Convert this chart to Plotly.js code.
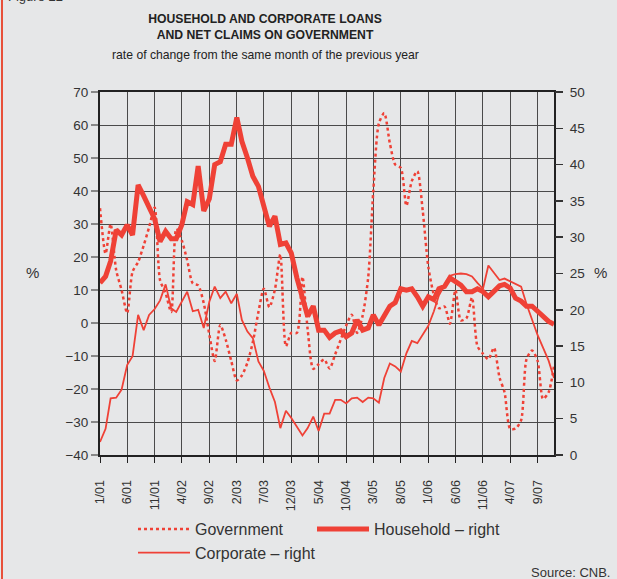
<!DOCTYPE html>
<html><head><meta charset="utf-8">
<script src="https://cdn.plot.ly/plotly-3.0.1.min.js"></script>
<style>html,body{margin:0;padding:0;background:#e6e7e8;}#chart{width:617px;height:579px;}</style>
</head><body><div id="chart"></div>
<script>
// Monthly series, January 2001 – December 2007
const startYear = 2001;
const tickLabels = ['1/01','6/01','11/01','4/02','9/02','2/03','7/03','12/03','5/04','10/04','3/05','8/05','1/06','6/06','11/06','4/07','9/07'];

// Government (left axis, %)
const government = [
  34.8, 21, 30, 16, 10, 3, 15.5, 18.5, 23.5, 29, 35, 13,
  9, 3.3, 28.5, 25, 19, 12, 11.4, 6, -3.5, -11.5, -0.6, -5,
  -11.5, -17.4, -15.9, -12, -5.8, 3.3, 10.4, 4.8, 10.2, 20.8, -7, -3,
  -3, 14, -2, -13.9, -12.5, -11, -13.8, -9.5, -5, -0.8, 2.5, -3,
  2.3, 14, 40, 60.5, 63.6, 54.5, 48, 47, 35.5, 43, 46, 34,
  17, 8.5, 4.5, 5, -0.2, 10, 0.8, 1.5, 7.7, -7, -9.3, -11,
  -7.5, -16.5, -21, -32, -32, -29.5, -11, -8.3, -11.5, -23, -21, -13
];
// Household (right axis, %)
const household = [
  23.7, 24.6, 26.7, 31.0, 30.3, 31.7, 30.3, 37.2, 35.7, 34.0, 32.5, 29.4,
  30.8, 29.8, 29.8, 31.7, 34.9, 34.5, 39.8, 33.6, 35.3, 40.0, 40.4, 42.8,
  42.8, 46.5, 43.2, 40.9, 38.4, 37.0, 34.0, 31.5, 32.9, 29.0, 29.2, 27.8,
  24.4, 21.6, 19.1, 20.5, 17.2, 17.2, 16.2, 16.8, 17.1, 16.3, 16.8, 18.6,
  17.2, 17.5, 19.3, 17.9, 19.3, 20.5, 21.0, 22.9, 22.7, 22.9, 21.8, 20.5,
  21.8, 21.4, 22.9, 23.2, 24.4, 23.9, 23.4, 22.5, 22.5, 22.9, 22.5, 21.8,
  22.6, 23.3, 23.5, 23.0, 21.6, 21.2, 20.5, 20.5, 19.8, 19.1, 18.4, 18.0
];
// Corporate (right axis, %)
const corporate = [
  1.8, 3.6, 7.8, 7.9, 9.0, 12.4, 13.6, 19.3, 17.2, 19.3, 20.1, 21.3,
  23.5, 20.2, 19.7, 21.1, 22.5, 19.8, 20.0, 17.5, 21.1, 23.2, 21.6, 22.5,
  20.9, 22.2, 18.6, 17.0, 16.1, 12.9, 11.6, 9.3, 7.3, 3.7, 6.1, 5.1,
  3.8, 2.7, 3.7, 5.3, 3.3, 5.7, 5.7, 7.6, 7.6, 7.1, 7.8, 7.9,
  7.3, 7.9, 7.8, 7.2, 10.6, 12.6, 12.2, 11.5, 14.0, 15.7, 15.4, 16.6,
  17.8, 19.8, 22.0, 23.4, 24.7, 24.9, 25.0, 24.9, 24.6, 23.7, 22.9, 26.1,
  25.1, 24.1, 24.3, 23.9, 23.6, 23.2, 20.8, 18.6, 16.5, 14.8, 13.0, 10.6
];

function monthDate(i) {
  const y = startYear + Math.floor(i / 12);
  const m = (i % 12) + 1;
  return y + '-' + String(m).padStart(2, '0') + '-01';
}
const months = government.map((_, i) => monthDate(i));
const tickVals = tickLabels.map(l => {
  const p = l.split('/');
  return '20' + p[1] + '-' + p[0].padStart(2, '0') + '-01';
});

const RED = '#ef4136';
const TXT = '#333333';
const SANS = 'Liberation Sans, Arial, sans-serif';

const traces = [
  {x: months, y: government, name: 'Government', type: 'scatter', mode: 'lines', yaxis: 'y', legend: 'legend',
   line: {color: RED, width: 2.5, dash: 'dot', shape: 'spline', smoothing: 0.7}},
  {x: months, y: corporate, name: 'Corporate – right', type: 'scatter', mode: 'lines', yaxis: 'y2', legend: 'legend',
   line: {color: RED, width: 1.8}},
  {x: months, y: household, name: 'Household – right', type: 'scatter', mode: 'lines', yaxis: 'y2', legend: 'legend2',
   line: {color: RED, width: 5}}
];

const W = 617, H = 579, ML = 100, MR = 63, MT = 92, MB = 124;
const PW = W - ML - MR, PH = H - MT - MB;
const px = X => (X - ML) / PW;
const py = Y => (MT + PH - Y) / PH;

const legendBase = {
  orientation: 'v', xanchor: 'left', yanchor: 'top',
  font: {family: SANS, size: 16, color: TXT},
  itemwidth: 52, bgcolor: 'rgba(0,0,0,0)', traceorder: 'normal', tracegroupgap: 0
};

const layout = {
  width: W, height: H,
  margin: {l: ML, r: MR, t: MT, b: MB, autoexpand: false},
  paper_bgcolor: '#e6e7e8', plot_bgcolor: '#e6e7e8',
  font: {family: SANS, color: TXT, size: 13},
  title: {
    text: '<b>HOUSEHOLD AND CORPORATE LOANS<br>AND NET CLAIMS ON GOVERNMENT</b>',
    font: {family: SANS, size: 12.2, color: '#222'},
    x: px(265), xref: 'paper', xanchor: 'center',
    y: 1 - 23 / H, yref: 'container', yanchor: 'top'
  },
  showlegend: true,
  legend: Object.assign({}, legendBase, {x: px(133), y: py(512)}),
  legend2: Object.assign({}, legendBase, {x: px(312), y: py(512)}),
  xaxis: {
    type: 'date', range: [months[0], months[months.length - 1]], automargin: false,
    tickvals: tickVals, ticktext: tickLabels, tickangle: -90,
    ticks: 'outside', ticklen: 6, tickcolor: '#222', tickwidth: 1,
    tickfont: {family: SANS, size: 12.5, color: TXT}, ticklabelstandoff: 12,
    showgrid: true, gridcolor: '#4a4a4a', gridwidth: 1,
    showline: true, linecolor: '#222', linewidth: 2, mirror: true,
    zeroline: false
  },
  yaxis: {
    range: [-40, 70], dtick: 10, tick0: 0, automargin: false,
    ticks: 'outside', ticklen: 7, tickcolor: '#888', tickwidth: 1.5,
    tickfont: {family: SANS, size: 13.5, color: TXT},
    showgrid: true, gridcolor: '#4a4a4a', gridwidth: 1,
    showline: true, linecolor: '#222', linewidth: 2, mirror: true,
    zeroline: false
  },
  yaxis2: {
    overlaying: 'y', side: 'right', range: [0, 50], dtick: 5, tick0: 0, automargin: false,
    ticks: 'outside', ticklen: 8, tickcolor: '#333', tickwidth: 1.5,
    tickfont: {family: SANS, size: 13.5, color: TXT}, ticklabelstandoff: 4,
    showgrid: false, zeroline: false, showline: false
  },
  yaxis3: {
    overlaying: 'y', side: 'right', range: [0, 50], dtick: 5, tick0: 0, automargin: false,
    ticks: 'inside', ticklen: 7, tickcolor: '#333', tickwidth: 1.5,
    showticklabels: false, showgrid: false, zeroline: false, showline: false
  },
  annotations: [
    {text: 'rate of change from the same month of the previous year', xref: 'paper', yref: 'paper',
     x: px(265), y: py(55), xanchor: 'center', yanchor: 'middle', showarrow: false,
     font: {family: SANS, size: 12.2, color: '#222'}},
    {text: '%', xref: 'paper', yref: 'paper', x: px(32), y: py(272), xanchor: 'center', yanchor: 'middle',
     showarrow: false, font: {family: SANS, size: 15, color: TXT}},
    {text: '%', xref: 'paper', yref: 'paper', x: px(600), y: py(272), xanchor: 'center', yanchor: 'middle',
     showarrow: false, font: {family: SANS, size: 15, color: TXT}},
    {text: 'Source: CNB.', xref: 'paper', yref: 'paper', x: px(612), y: py(572), xanchor: 'right', yanchor: 'middle',
     showarrow: false, font: {family: SANS, size: 13, color: TXT}},
    {text: 'Figure 22', xref: 'paper', yref: 'paper', x: px(6), y: py(6), xanchor: 'left', yanchor: 'bottom',
     showarrow: false, font: {family: SANS, size: 13, color: TXT}}
  ],
  shapes: [
    {type: 'line', xref: 'paper', yref: 'paper', x0: px(2), x1: px(2), y0: py(H + 5), y1: py(-5),
     line: {color: '#e8503a', width: 2}}
  ]
};

Plotly.newPlot('chart', traces, layout, {displayModeBar: false, staticPlot: true});
</script>
</body></html>
